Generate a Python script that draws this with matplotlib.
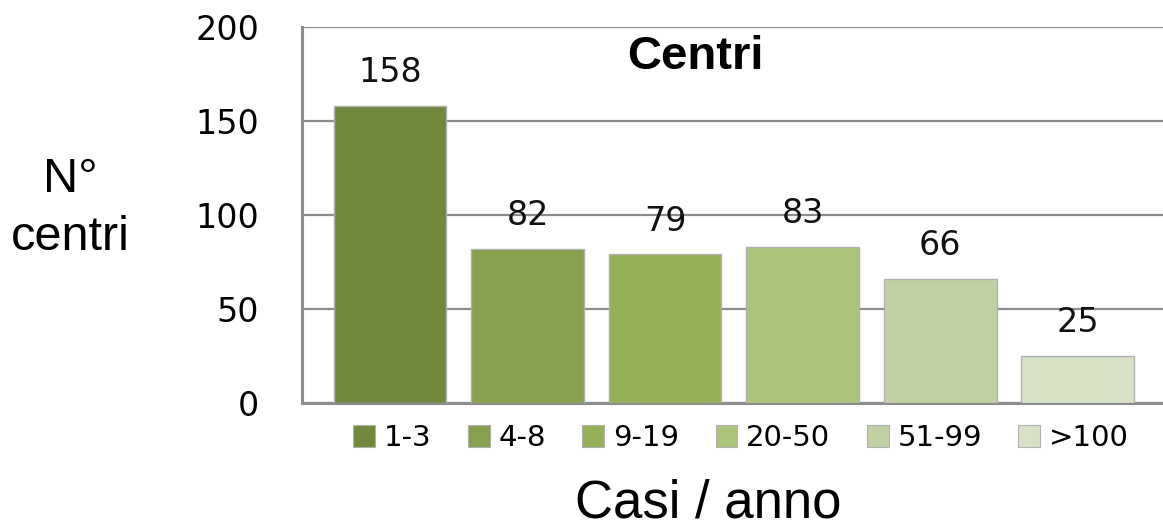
import numpy as np
import matplotlib
matplotlib.use("Agg")
import matplotlib.pyplot as plt
from matplotlib.patches import Patch

# dati
categorie = ["1-3", "4-8", "9-19", "20-50", "51-99", ">100"]
centri = [158, 82, 79, 83, 66, 25]
colori = ["#71893F", "#86A04E", "#95B158", "#ABC47C", "#C1D1A3", "#D6E1C6"]
y_ticks = [0, 50, 100, 150, 200]

W, H = 1163, 529
fig = plt.figure(figsize=(W / 100, H / 100), dpi=100)
ax = fig.add_axes([302 / W, 1 - 403 / H, 1 - 302 / W, 376 / H])

x = np.arange(len(categorie))
ax.bar(x, centri, width=0.82, color=colori, edgecolor="#B0B0B0",
       linewidth=1, zorder=3)

for xi, v in zip(x, centri):
    ax.annotate(str(v), (xi, v), xytext=(0, 12), textcoords="offset points",
                ha="center", va="bottom", fontsize=24, family="DejaVu Sans",
                color="#111111")

ax.set_xlim(-0.64, 5.62)
ax.set_ylim(0, 200)
ax.set_yticks(y_ticks)
ax.set_yticklabels([str(t) for t in y_ticks], fontsize=24, family="DejaVu Sans")
ax.tick_params(axis="y", length=0, pad=31)
ax.set_xticks([])
ax.yaxis.grid(True, color="#8C8C8C", linewidth=1.6, zorder=0)
ax.set_axisbelow(True)

for s in ["top", "right"]:
    ax.spines[s].set_visible(False)
for s in ["left", "bottom"]:
    ax.spines[s].set_color("#8C8C8C")
    ax.spines[s].set_linewidth(2.2)

ax.text((695 - 302) / 861, (403 - 57) / 376, "Centri", transform=ax.transAxes,
        ha="center", va="center", fontsize=34, fontweight="bold",
        family="Liberation Sans")

handles = [Patch(facecolor=c, edgecolor="#B0B0B0", linewidth=0.8) for c in colori]
ax.legend(handles, categorie, loc="center", bbox_to_anchor=((741 - 302) / 861, -35 / 376),
          ncol=6, frameon=False, prop={"family": "DejaVu Sans", "size": 21},
          handlelength=0.75, handleheight=0.75, handletextpad=0.3,
          columnspacing=1.25, borderpad=0, borderaxespad=0)

fig.text(70 / W, 1 - 192 / H, "N°", ha="center", va="baseline", fontsize=35,
         family="Liberation Sans")
fig.text(70 / W, 1 - 250 / H, "centri", ha="center", va="baseline", fontsize=35,
         family="Liberation Sans")
fig.text(708 / W, 1 - 517 / H, "Casi / anno", ha="center", va="baseline",
         fontsize=38, family="Liberation Sans")

fig.savefig("out.png", dpi=100)
